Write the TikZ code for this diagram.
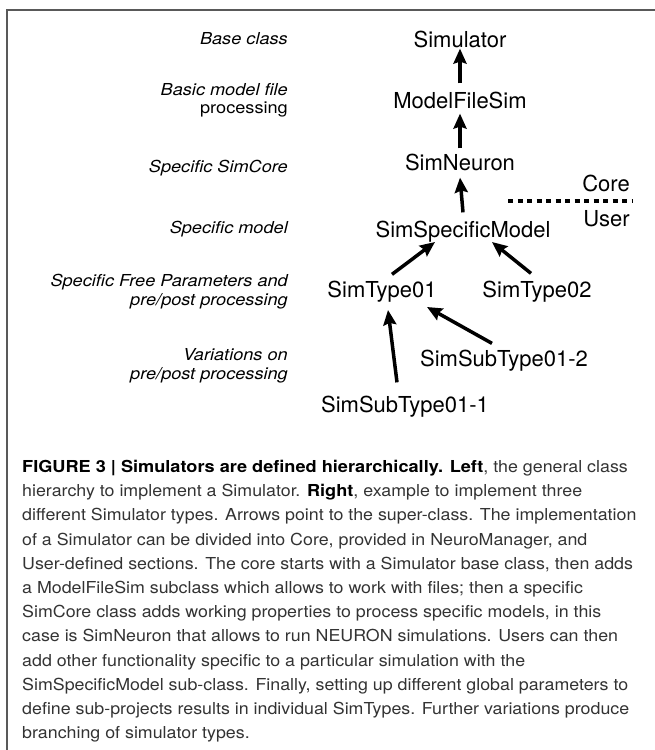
\documentclass[tikz,border=0pt]{standalone}
\usepackage{fontspec}
\setmainfont{TeX Gyre Heros}
\newfontfamily\lblfont[FakeStretch=1.1]{TeX Gyre Heros}
\newfontfamily\capfont[FakeStretch=1.08]{TeX Gyre Heros}
\newfontfamily\capbold[FakeStretch=1.1]{TeX Gyre Heros}
\usetikzlibrary{arrows.meta}
\definecolor{capgray}{rgb}{0.2, 0.2, 0.2}
\definecolor{framegray}{rgb}{0.35, 0.35, 0.35}
\newcommand{\capem}[1]{{\capbold\bfseries\color{black}#1}}
\tikzset{cls/.style = {anchor=base, inner sep=2pt, font=\fontsize{22}{26}\selectfont},
         lvl/.style = {anchor=base east, inner sep=0pt, align=right,
                       font=\lblfont\fontsize{16.5}{18.5}\selectfont\itshape},
         isa/.style = {-{Stealth[length=15pt, width=13pt, inset=2pt]}, line width=3.5pt}}

\begin{document}
\begin{tikzpicture}[x=1pt, y=-1pt]
      \useasboundingbox (0, 0) rectangle (655, 750);
      \draw [framegray, line width=1.2pt] (655, 10) -- (7, 10) -- (7, 750);

      % levels of the hierarchy (base = last line)
      \node [lvl] (lbase) at (288, 44) {Base class};
      \node [lvl] (lfile) at (288, 113.5) {Basic model file\\\upshape processing};
      \node [lvl] (lcore) at (288, 172) {Specific SimCore};
      \node [lvl] (lmodel) at (288, 233) {Specific model};
      \node [lvl] (lfree) at (288, 305) {Specific Free Parameters and\\pre/post processing};
      \node [lvl] (lvar) at (288, 379) {Variations on\\pre/post processing};

      % classes
      \node [cls] (sim) at (460, 47) {Simulator};
      \node [cls] (mfs) at (460, 108) {ModelFileSim};
      \node [cls] (neu) at (460, 170) {SimNeuron};
      \node [cls] (ssm) at (463, 237) {SimSpecificModel};
      \node [cls] (t1) at (382, 297) {SimType01};
      \node [cls] (t2) at (537, 297) {SimType02};
      \node [cls] (st2) at (504, 366) {SimSubType01-2};
      \node [cls] (st1) at (405, 412) {SimSubType01-1};

      \node [cls, anchor=base east, inner sep=0pt] (core) at (630, 191) {Core};
      \node [cls, anchor=base east, inner sep=0pt] (user) at (630, 226) {User};
      \coordinate (cut1) at (508, 201);
      \coordinate (cut2) at (633, 201);
      \draw [line width=4pt, dash pattern=on 5pt off 4.5pt] (cut1) -- (cut2);

      \draw [isa] ([yshift=6pt]mfs.north) -- ([yshift=1pt]sim.south);
      \draw [isa] ([yshift=3pt]neu.north) -- ([yshift=-3pt]mfs.south);
      \draw [isa] ([yshift=6pt]ssm.north) -- ([yshift=-5pt]neu.south);
      \draw [isa] ([xshift=10pt, yshift=4pt]t1.north) -- ([xshift=-28pt, yshift=2pt]ssm.south);
      \draw [isa] ([xshift=-6pt, yshift=5pt]t2.north) -- ([xshift=29pt, yshift=2pt]ssm.south);
      \draw [isa] ([xshift=-12pt, yshift=4pt]st2.north) -- ([xshift=45pt, yshift=-3pt]t1.south);
      \draw [isa] ([xshift=-8pt, yshift=11pt]st1.north) -- ([xshift=6pt, yshift=-6pt]t1.south);

      \node [anchor=north west, inner sep=0pt, align=left, text=capgray,
             font=\capfont\fontsize{16.5}{24.2}\selectfont] (caption) at (22, 460)
            {\capem{FIGURE 3 | Simulators are defined hierarchically. Left}, the general class\\
             hierarchy to implement a Simulator. \capem{Right}, example to implement three\\
             different Simulator types. Arrows point to the super-class. The implementation\\
             of a Simulator can be divided into Core, provided in NeuroManager, and\\
             User-defined sections. The core starts with a Simulator base class, then adds\\
             a ModelFileSim subclass which allows to work with files; then a specific\\
             SimCore class adds working properties to process specific models, in this\\
             case is SimNeuron that allows to run NEURON simulations. Users can then\\
             add other functionality specific to a particular simulation with the\\
             SimSpecificModel sub-class. Finally, setting up different global parameters to\\
             define sub-projects results in individual SimTypes. Further variations produce\\
             branching of simulator types.};
    \end{tikzpicture}
\end{document}
